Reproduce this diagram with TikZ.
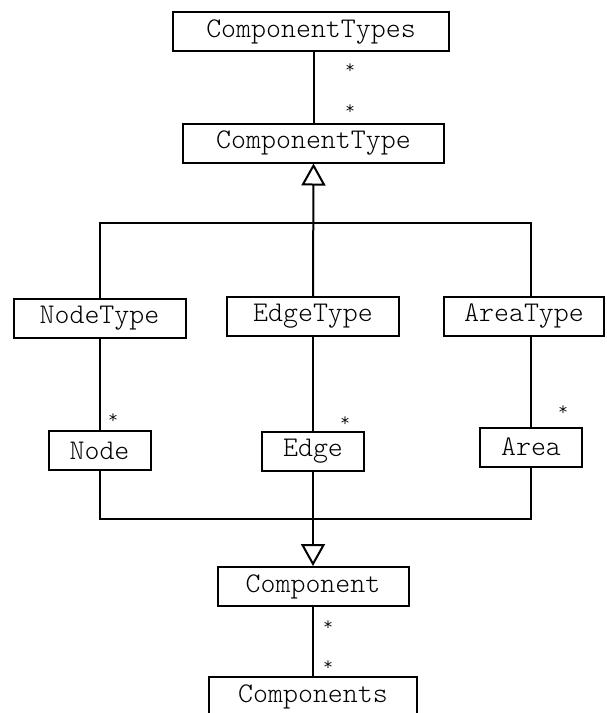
\documentclass[tikz,border=0pt]{standalone}
\usetikzlibrary{arrows.meta,calc}

\begin{document}
\begin{tikzpicture}[x=1pt,y=-1pt,
	cls/.style={draw,line width=2pt,minimum height=39pt,inner sep=0pt,
		font=\fontsize{28.5}{30}\ttfamily\fontseries{l}\selectfont},
	mult/.style={inner sep=0pt,font=\fontsize{19}{19}\ttfamily\fontseries{l}\selectfont},
	assoc/.style={line width=2pt},
	inherit/.style={line width=2pt,-{Triangle[open,length=22pt,width=24pt]}}]
	\clip (0,0) rectangle (606,713);
	
	\node[cls,minimum width=276pt] (ComponentTypes) at (311,31.5) {ComponentTypes};
	\node[cls,minimum width=261pt] (ComponentType) at (313.5,143) {ComponentType};
	\node[cls,minimum width=172pt] (NodeType) at (99.5,318.5) {NodeType};
	\node[cls,minimum width=172pt] (EdgeType) at (313,316.5) {EdgeType};
	\node[cls,minimum width=160pt] (AreaType) at (524,316) {AreaType};
	\node[cls,minimum width=102pt] (Node) at (99.5,450.5) {Node};
	\node[cls,minimum width=102pt] (Edge) at (313,451.5) {Edge};
	\node[cls,minimum width=102pt] (Area) at (531,447) {Area};
	\node[cls,minimum width=191pt] (Component) at (313,586.5) {Component};
	\node[cls,minimum width=208pt] (Components) at (313,696.5) {Components};
	
	\coordinate (topbar) at (313,223);
	\coordinate (botbar) at (313,519);
	
	% associations
	\draw[assoc] (ComponentType.north) -- (ComponentType.north |- ComponentTypes.south);
	\draw[assoc] (NodeType.south) -- (Node.north);
	\draw[assoc] (EdgeType.south) -- (Edge.north);
	\draw[assoc] (Area.north |- AreaType.south) -- (Area.north);
	\draw[assoc] (Component.south) -- (Components.north);
	
	% generalisations
	\draw[inherit] (EdgeType.north) -- (ComponentType.south);
	\draw[assoc] (NodeType.north) |- (topbar) -| (Area.north |- AreaType.north);
	\draw[inherit] (Edge.south) -- (Component.north);
	\draw[assoc] (Node.south) |- (botbar) -| (Area.south);
	
	% multiplicities
	\node[mult] (mA) at (350,69) {*};
	\node[mult] (mB) at (350,110) {*};
	\node[mult] (mC) at (113,419) {*};
	\node[mult] (mD) at (345,422) {*};
	\node[mult] (mE) at (563,411) {*};
	\node[mult] (mF) at (328,626) {*};
	\node[mult] (mG) at (328,666) {*};
\end{tikzpicture}
\end{document}
